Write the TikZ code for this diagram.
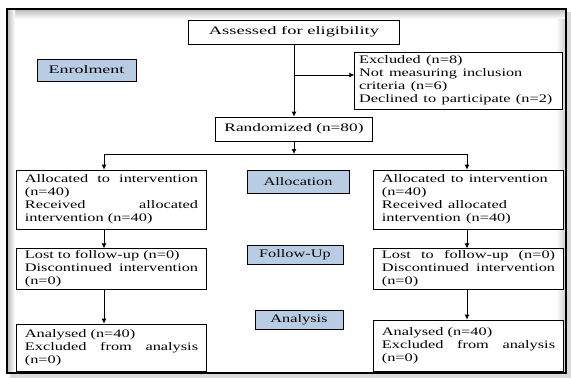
\documentclass[tikz,border=0pt]{standalone}
\usepackage{fontspec}
\setmainfont{Liberation Serif}
\usetikzlibrary{arrows.meta}
\definecolor{phaseblue}{HTML}{B8CCE4}
\tolerance=9999
\hyphenpenalty=10000

\begin{document}
\begin{tikzpicture}[
    x=1pt, y=-1pt,
    flowbox/.style={draw, fill=white, line width=0.8pt, xscale=1.42,
      inner xsep=6pt, inner ysep=2pt, font=\fontsize{11.5}{13}\selectfont},
    textbox/.style={flowbox, text width=122pt, align=justify},
    phase/.style={flowbox, fill=phaseblue, inner sep=1pt},
    flow/.style={line width=0.8pt, -{Latex[length=5pt,width=5pt]}},
  ]
  \useasboundingbox (0,0) rectangle (571,378);
  % frame with shadow
  \fill[gray!30] (10,12) rectangle (571,378);
  \fill[white] (7,9) rectangle (566,373);
  \shade[top color=gray!55, bottom color=white] (7,9) rectangle (566,19);
  \shade[left color=gray!55, right color=white] (7,9) rectangle (15,373);
  \shade[left color=white, right color=gray!40] (556,19) rectangle (566,373);
  \draw[line width=1.2pt] (7,9) rectangle (566,373);

  % enrolment
  \node[flowbox, xscale=1.13, minimum width=131.5pt, minimum height=24pt] (assess)
    at (294,32) {Assessed for eligibility};
  \node[phase, xscale=1.1, minimum width=63.4pt, minimum height=22pt] (enrol)
    at (86.5,70) {Enrolment};
  \node[flowbox, text width=140pt, inner xsep=3pt, align=left, minimum height=57pt]
    (excl) at (458.5,80.5)
    {Excluded (n=8)\\Not measuring inclusion\\criteria (n=6)\\Declined to participate (n=2)};
  \node[flowbox, xscale=1.06, minimum width=103pt, minimum height=24pt] (rand)
    at (294,129) {Randomized (n=80)};

  % allocation
  \node[textbox, minimum height=59pt] (allocL) at (111.5,199.5)
    {Allocated to intervention (n=40)\\Received allocated intervention (n=40)};
  \node[phase, minimum width=71.8pt, minimum height=23pt] (alloc) at (298,181.5)
    {Allocation};
  \node[textbox, align=left, minimum height=59pt] (allocR) at (468.5,199.5)
    {Allocated to intervention\\(n=40)\\Received allocated\\intervention (n=40)};

  % follow-up
  \node[textbox, minimum height=38pt] (lostL) at (111.5,269)
    {Lost to follow-up (n=0)\\Discontinued intervention (n=0)};
  \node[phase, minimum width=67.6pt, minimum height=19pt] (follow) at (295,254.5)
    {Follow-Up};
  \node[textbox, minimum height=40pt] (lostR) at (468.5,269)
    {Lost to follow-up (n=0) Discontinued intervention (n=0)};

  % analysis
  \node[textbox, minimum height=47pt] (anaL) at (111.5,347.5)
    {Analysed (n=40)\\Excluded from analysis (n=0)};
  \node[phase, minimum width=62pt, minimum height=19pt] (analysis) at (299,319.5)
    {Analysis};
  \node[textbox, minimum height=51pt] (anaR) at (468.5,345.5)
    {Analysed (n=40)\\Excluded from analysis (n=0)};

  % connectors
  \coordinate (br) at (294,75);
  \coordinate (split) at (294,154);
  \coordinate (lx) at (104,154);
  \coordinate (rx) at (467,154);
  \draw[flow] (assess.south) -- (rand.north);
  \draw[flow] (br) -- (br -| excl.west);
  \draw[flow] (rand.south) -- (split);
  \draw[line width=0.8pt] (lx) -- (rx);
  \draw[flow] (lx) -- (lx |- allocL.north);
  \draw[flow] (rx) -- (rx |- allocR.north);
  \draw[flow] (allocL.south -| lx) -- (lostL.north -| lx);
  \draw[flow] (lostL.south -| lx) -- (anaL.north -| lx);
  \draw[flow] (allocR.south -| rx) -- (lostR.north -| rx);
  \draw[flow] (lostR.south -| rx) -- (anaR.north -| rx);
\end{tikzpicture}
\end{document}
